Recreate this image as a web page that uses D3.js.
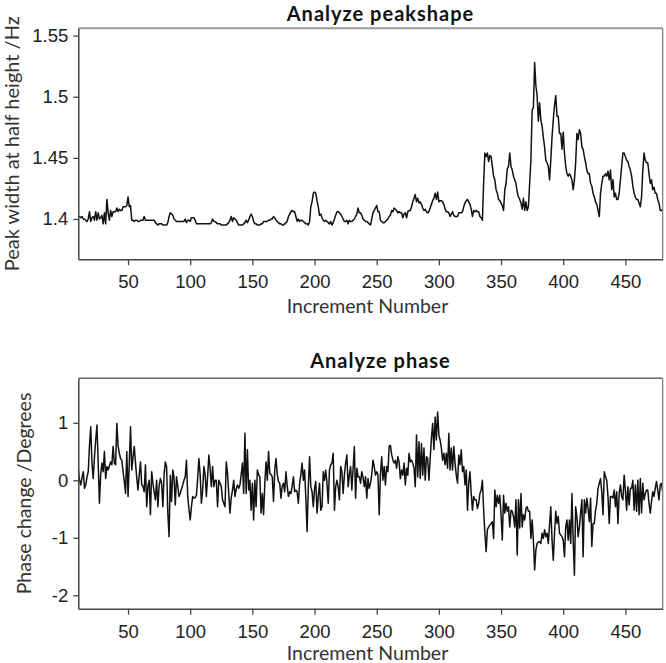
<!DOCTYPE html>
<html>
<head>
<meta charset="utf-8">
<script src="https://cdn.jsdelivr.net/npm/d3@7"></script>
<style>
  html, body { margin: 0; padding: 0; background: #fff; }
  svg { display: block; }
</style>
</head>
<body>
<svg id="chart" width="666" height="663"></svg>
<script>
// ---------------- DATA ----------------
const increments = d3.range(10, 481); // Increment Number 10..480

const peakWidth = [
  1.402, 1.402, 1.401, 1.402, 1.400, 1.400, 1.399, 1.398, 1.400, 1.406,
  1.398, 1.401, 1.402, 1.399, 1.406, 1.399, 1.405, 1.400, 1.401, 1.403,
  1.396, 1.405, 1.396, 1.416, 1.405, 1.399, 1.407, 1.402, 1.406, 1.406,
  1.406, 1.409, 1.406, 1.408, 1.407, 1.407, 1.410, 1.410, 1.410, 1.411,
  1.418, 1.410, 1.411, 1.399, 1.399, 1.398, 1.399, 1.399, 1.398, 1.398,
  1.399, 1.399, 1.399, 1.402, 1.399, 1.399, 1.399, 1.399, 1.399, 1.399,
  1.399, 1.399, 1.397, 1.396, 1.395, 1.396, 1.396, 1.396, 1.395, 1.395,
  1.395, 1.395, 1.397, 1.402, 1.405, 1.404, 1.403, 1.400, 1.399, 1.398,
  1.398, 1.398, 1.398, 1.398, 1.398, 1.398, 1.400, 1.397, 1.399, 1.399,
  1.398, 1.401, 1.401, 1.401, 1.399, 1.396, 1.396, 1.396, 1.396, 1.396,
  1.396, 1.396, 1.396, 1.396, 1.396, 1.396, 1.396, 1.397, 1.400, 1.398,
  1.398, 1.397, 1.396, 1.396, 1.396, 1.395, 1.395, 1.395, 1.395, 1.395,
  1.396, 1.397, 1.399, 1.402, 1.398, 1.401, 1.400, 1.399, 1.397, 1.395,
  1.395, 1.395, 1.395, 1.396, 1.397, 1.399, 1.397, 1.399, 1.402, 1.404,
  1.402, 1.398, 1.396, 1.396, 1.395, 1.395, 1.395, 1.396, 1.396, 1.398,
  1.398, 1.398, 1.398, 1.399, 1.399, 1.400, 1.400, 1.402, 1.401, 1.399,
  1.398, 1.397, 1.396, 1.396, 1.395, 1.395, 1.396, 1.397, 1.398, 1.402,
  1.404, 1.406, 1.407, 1.406, 1.406, 1.402, 1.398, 1.400, 1.398, 1.399,
  1.399, 1.398, 1.397, 1.396, 1.396, 1.395, 1.398, 1.410, 1.414, 1.421,
  1.422, 1.421, 1.415, 1.410, 1.403, 1.404, 1.401, 1.399, 1.398, 1.399,
  1.398, 1.397, 1.396, 1.398, 1.395, 1.397, 1.400, 1.403, 1.406, 1.406,
  1.405, 1.404, 1.402, 1.400, 1.398, 1.398, 1.399, 1.396, 1.399, 1.398,
  1.398, 1.399, 1.400, 1.402, 1.404, 1.409, 1.405, 1.405, 1.403, 1.400,
  1.399, 1.398, 1.398, 1.397, 1.396, 1.395, 1.400, 1.405, 1.407, 1.409,
  1.411, 1.406, 1.406, 1.399, 1.398, 1.397, 1.397, 1.398, 1.399, 1.400,
  1.402, 1.403, 1.407, 1.406, 1.409, 1.408, 1.407, 1.405, 1.406, 1.405,
  1.405, 1.401, 1.404, 1.405, 1.401, 1.406, 1.407, 1.407, 1.410, 1.414,
  1.417, 1.420, 1.414, 1.417, 1.413, 1.414, 1.412, 1.409, 1.407, 1.408,
  1.406, 1.405, 1.406, 1.409, 1.412, 1.415, 1.417, 1.421, 1.416, 1.422,
  1.414, 1.415, 1.415, 1.414, 1.412, 1.408, 1.406, 1.406, 1.405, 1.402,
  1.404, 1.406, 1.403, 1.402, 1.402, 1.402, 1.405, 1.405, 1.405, 1.406,
  1.410, 1.413, 1.415, 1.416, 1.414, 1.412, 1.408, 1.402, 1.407, 1.406,
  1.407, 1.406, 1.406, 1.402, 1.401, 1.399, 1.430, 1.454, 1.451, 1.454,
  1.447, 1.452, 1.451, 1.443, 1.435, 1.432, 1.424, 1.421, 1.416, 1.415,
  1.413, 1.411, 1.407, 1.424, 1.429, 1.441, 1.443, 1.454, 1.443, 1.440,
  1.435, 1.432, 1.429, 1.422, 1.418, 1.416, 1.413, 1.408, 1.417, 1.407,
  1.414, 1.407, 1.410, 1.429, 1.448, 1.489, 1.491, 1.528, 1.509, 1.501,
  1.480, 1.495, 1.481, 1.476, 1.467, 1.459, 1.448, 1.446, 1.443, 1.432,
  1.448, 1.467, 1.481, 1.493, 1.501, 1.484, 1.484, 1.470, 1.470, 1.457,
  1.471, 1.454, 1.443, 1.437, 1.435, 1.437, 1.435, 1.432, 1.424, 1.432,
  1.446, 1.470, 1.465, 1.473, 1.470, 1.459, 1.457, 1.451, 1.446, 1.440,
  1.437, 1.437, 1.429, 1.427, 1.421, 1.418, 1.414, 1.412, 1.407, 1.402,
  1.421, 1.429, 1.435, 1.435, 1.437, 1.435, 1.439, 1.432, 1.440, 1.424,
  1.432, 1.418, 1.421, 1.416, 1.416, 1.421, 1.432, 1.443, 1.454, 1.454,
  1.451, 1.448, 1.447, 1.443, 1.440, 1.435, 1.427, 1.421, 1.418, 1.416,
  1.416, 1.413, 1.410, 1.418, 1.440, 1.454, 1.448, 1.446, 1.446, 1.437,
  1.429, 1.432, 1.424, 1.426, 1.421, 1.421, 1.416, 1.413, 1.407, 1.407,
  1.408
];

const phaseChange = [
  0.18, 0, -0.08, 0.05, 0.15, -0.14, -0.08, 0.05, 0.15, 0.6,
  0.93, 0.3, 0.03, 0.4, 0.7, 0.96, 0.3, -0.4, 0.1, 0.3,
  0.15, 0.5, 0.03, 0.24, 0.18, 0.25, 0.32, 0.27, 0.59, 0.3,
  0.27, 0.99, 0.6, 0.47, 0.38, 0.35, 0.15, -0.02, -0.23, 0.5,
  -0.28, 0.3, 0.93, 0.18, 0.4, 0.59, 0.3, 0.05, -0.17, 0.09,
  0.32, -0.08, -0.1, -0.2, 0.27, -0.46, -0.1, 0, -0.6, 0.15,
  -0.05, -0.2, -0.34, 0, -0.46, -0.1, 0.03, -0.05, -0.46, 0.1,
  0.32, 0.24, -0.57, -0.98, 0.09, -0.37, 0.18, 0.05, -0.43, 0.06,
  -0.1, -0.28, -0.23, -0.15, -0.08, 0, 0.06, 0.35, -0.28, -0.5,
  -0.69, -0.46, -0.28, -0.31, -0.3, -0.26, 0.03, 0.38, 0.1, -0.4,
  -0.17, 0.24, 0.1, -0.28, 0.06, 0.44, 0.2, -0.11, 0.24, -0.11,
  0, 0, -0.46, 0, -0.05, -0.11, -0.34, -0.4, -0.46, 0.32,
  0.12, -0.23, -0.57, -0.3, -0.17, 0, -0.28, -0.15, -0.08, -0.14,
  -0.08, 0.1, 0.3, -0.23, 0.82, -0.23, 0.53, -0.17, 0, -0.52,
  -0.05, -0.69, 0, -0.46, 0.18, 0.1, 0.06, -0.57, -0.23, -0.6,
  -0.05, 0.32, 0, 0.5, 0.12, 0.1, 0.06, -0.37, 0.18, 0.38,
  0.1, -0.02, -0.05, -0.31, -0.1, -0.05, -0.2, 0.15, -0.1, -0.28,
  -0.2, -0.23, -0.1, 0.06, -0.2, -0.17, -0.2, -0.4, -0.05, 0.1,
  0.3, 0, 0.18, -0.31, -0.89, -0.11, 0.41, -0.11, -0.2, -0.46,
  -0.14, -0.02, -0.57, -0.28, -0.05, -0.52, -0.46, 0.15, 0, 0.18,
  -0.05, -0.4, 0.18, 0.27, 0.3, 0.47, -0.52, -0.11, 0, -0.11,
  -0.34, 0.24, 0.15, -0.23, 0.09, 0.3, 0.44, -0.11, 0.1, 0.24,
  -0.17, 0.2, 0.59, -0.31, 0.21, 0.06, 0.06, -0.05, 0.15, 0.05,
  -0.11, 0.06, -0.31, 0.03, -0.14, -0.05, 0.1, 0.35, 0.24, 0.09,
  0.15, 0.1, -0.6, 0.1, 0.41, 0, 0.24, -0.08, 0.24, 0.15,
  0.59, 0.61, 0.45, 0.35, 0.3, 0.35, 0.21, 0.41, 0.32, 0.03,
  0.18, 0.09, 0.3, -0.08, 0.21, 0.09, 0.47, 0.32, 0.35, 0.3,
  0.21, -0.11, 0.79, 0.06, 0.67, 0.03, 0.64, 0.09, 0.56, 0,
  0.41, 0.38, 0, 0.38, 0.73, 0.99, 0.53, 1.1, 0.7, 1.19,
  0.79, 0.7, 0.56, 0.35, 0.47, 0.27, 0.47, 0.21, 0.82, 0.18,
  0.56, 0.18, 0.59, 0.3, 0.09, -0.05, 0.44, 0.27, 0.53, 0.15,
  0.24, -0.08, 0.18, -0.52, -0.05, 0.15, -0.23, -0.52, -0.28, -0.34,
  -0.34, -0.49, -0.4, -0.23, -0.17, 0, -0.52, -0.92, -1.24, -0.86,
  -0.81, -0.78, -0.75, -0.72, -1.01, -0.17, -0.46, -0.26, -0.4, -0.26,
  -0.6, -1.04, -0.26, -0.57, -0.4, -0.54, -0.46, -0.81, -0.52, -0.54,
  -0.63, -0.81, -0.34, -1.3, -0.34, -0.83, -0.23, -0.81, -0.6, -0.69,
  -0.49, -0.46, -0.54, -0.54, -1.01, -0.69, -1.04, -1.56, -1.21, -1.1,
  -1.07, -1.07, -1.1, -0.92, -1.01, -0.86, -0.98, -0.92, -1.1, -0.78,
  -0.46, -1.04, -1.39, -0.92, -0.54, -0.75, -0.63, -0.92, -0.95, -0.98,
  -1.04, -1.33, -0.81, -0.69, -1.04, -0.69, -1.1, -0.23, -1.04, -1.65,
  -0.46, -0.63, -0.98, -0.81, -0.57, -0.34, -1.33, -0.34, -0.57, -0.31,
  -0.49, -0.72, -0.31, -1.15, -0.75, -0.75, -0.52, -0.4, -0.14, -0.05,
  0.03, -0.2, -0.6, 0.15, 0.06, 0, -0.28, -0.75, -0.28, -0.28,
  -0.31, -0.17, -0.46, -0.2, -0.75, -0.23, -0.08, -0.28, -0.34, 0.09,
  -0.17, -0.52, -0.11, -0.43, -0.14, -0.14, 0, -0.52, -0.08, -0.54,
  0, -0.6, 0.03, -0.57, -0.05, -0.34, -0.23, -0.17, -0.17, -0.4,
  -0.57, -0.37, -0.2, -0.28, -0.14, -0.02, -0.17, -0.34, -0.08, -0.05,
  -0.2
];

const xTicks = [50, 100, 150, 200, 250, 300, 350, 400, 450];
const peakTicks = [1.4, 1.45, 1.5, 1.55];
const peakTickLabels = ["1.4", "1.45", "1.5", "1.55"];
const phaseTicks = [-2, -1, 0, 1];
const phaseTickLabels = ["-2", "-1", "0", "1"];

const titles = ["Analyze peakshape", "Analyze phase"];
const xTitle = "Increment Number";
const yTitles = ["Peak width at half height /Hz", "Phase change /Degrees"];

// ---------------- LAYOUT ----------------
const svg = d3.select("#chart");
const left = 78.3, right = 662.7;
const tickFont = "'Liberation Sans', Arial, sans-serif";
const labelFont = "Lato, 'Open Sans', sans-serif";

const panels = [
  { top: 28.3, bottom: 259.3, domain: [1.367, 1.556], values: peakWidth,
    ticks: peakTicks, labels: peakTickLabels, title: titles[0], yTitle: yTitles[0],
    titleY: 20.5, xTitleY: 313, yTitleX: 18.5, yTitleSize: 20, topBorder: "#9a9a9a", topWidth: 2 },
  { top: 378.3, bottom: 608.7, domain: [-2.233, 1.774], values: phaseChange,
    ticks: phaseTicks, labels: phaseTickLabels, title: titles[1], yTitle: yTitles[1],
    titleY: 368, xTitleY: 659.5, yTitleX: 31, yTitleSize: 19.5, topBorder: "#666", topWidth: 1.5 }
];

const x = d3.scaleLinear().domain([10, 480]).range([left, right]);

panels.forEach(p => {
  const y = d3.scaleLinear().domain(p.domain).range([p.bottom, p.top]);
  const g = svg.append("g");

  const clipId = "clip" + Math.round(p.top);
  svg.append("clipPath").attr("id", clipId)
    .append("rect").attr("x", left).attr("y", p.top)
    .attr("width", right - left).attr("height", p.bottom - p.top);

  const line = d3.line()
    .x((d, i) => x(increments[i]))
    .y(d => y(d));
  g.append("path")
    .datum(p.values)
    .attr("clip-path", `url(#${clipId})`)
    .attr("fill", "none")
    .attr("stroke", "#111")
    .attr("stroke-width", 1.5)
    .attr("stroke-linejoin", "round")
    .attr("d", line);

  g.append("line").attr("x1", left).attr("x2", right)
    .attr("y1", p.top).attr("y2", p.top)
    .attr("stroke", p.topBorder).attr("stroke-width", p.topWidth);
  g.append("line").attr("x1", right).attr("x2", right)
    .attr("y1", p.top).attr("y2", p.bottom)
    .attr("stroke", "#777").attr("stroke-width", 1.2);

  const xAxis = d3.axisBottom(x).tickValues(xTicks).tickSize(6).tickPadding(10).tickSizeOuter(0);
  const gx = g.append("g").attr("transform", `translate(0,${p.bottom})`).call(xAxis);
  gx.select(".domain").attr("stroke", "#444").attr("stroke-width", 1.5);
  gx.selectAll(".tick line").attr("stroke", "#444").attr("stroke-width", 1.3);
  gx.selectAll(".tick text").attr("font-family", tickFont).attr("font-size", 18.5).attr("fill", "#222");

  const yAxis = d3.axisLeft(y).tickValues(p.ticks)
    .tickFormat((d, i) => p.labels[i]).tickSize(5).tickPadding(5).tickSizeOuter(0);
  const gy = g.append("g").attr("transform", `translate(${left},0)`).call(yAxis);
  gy.select(".domain").attr("stroke", "#444").attr("stroke-width", 1.5);
  gy.selectAll(".tick line").attr("stroke", "#444").attr("stroke-width", 1.3);
  gy.selectAll(".tick text").attr("font-family", tickFont).attr("font-size", 18.5).attr("fill", "#222");

  svg.append("text").attr("x", (left + right) / 2 + 10).attr("y", p.titleY)
    .attr("text-anchor", "middle").attr("font-family", labelFont)
    .attr("font-weight", "bold").attr("font-size", 20).attr("letter-spacing", 1)
    .attr("fill", "#111")
    .text(p.title);

  svg.append("text").attr("x", (left + right) / 2 - 3).attr("y", p.xTitleY)
    .attr("text-anchor", "middle").attr("font-family", labelFont)
    .attr("font-size", 19.5).attr("fill", "#333")
    .text(xTitle);

  svg.append("text")
    .attr("transform", `translate(${p.yTitleX},${(p.top + p.bottom) / 2}) rotate(-90)`)
    .attr("text-anchor", "middle").attr("font-family", labelFont)
    .attr("font-size", p.yTitleSize).attr("fill", "#333")
    .text(p.yTitle);
});
</script>
</body>
</html>
